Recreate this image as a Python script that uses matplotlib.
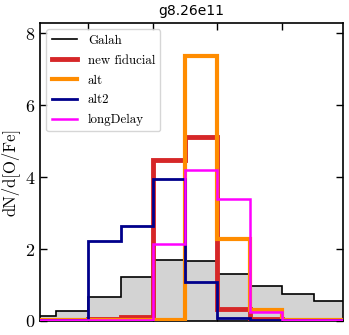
import numpy as np
import matplotlib
matplotlib.use("Agg")
import matplotlib.pyplot as plt

plt.rcParams['font.family'] = 'serif'
plt.rcParams['font.serif'] = ['cmr10']
plt.rcParams['mathtext.fontset'] = 'cm'
plt.rcParams['axes.formatter.use_mathtext'] = True
plt.rcParams['axes.unicode_minus'] = False

# bin edges in [O/Fe]
edges = [-0.4, -0.3, -0.2, -0.1, 0.0, 0.1, 0.2, 0.3, 0.4, 0.5, 0.6]

galah = [0.14, 0.28, 0.67, 1.22, 1.69, 1.67, 1.31, 0.97, 0.75, 0.56]
fiducial = [0.03, 0.03, 0.05, 0.1, 4.47, 5.11, 0.33, 0.05, 0.02, 0.02]
alt = [0.02, 0.02, 0.02, 0.02, 0.02, 7.36, 2.28, 0.3, 0.03, 0.02]
alt2 = [0.04, 0.04, 2.22, 2.65, 3.94, 1.07, 0.07, 0.02, 0.02, 0.02]
long_delay = [0.02, 0.02, 0.02, 0.02, 2.14, 4.19, 3.39, 0.25, 0.02, 0.02]

fig = plt.figure(figsize=(3.49, 3.35), dpi=100)
ax = fig.add_axes([0.1146, 0.0418, 0.8684, 0.8895])

ax.stairs(galah, edges, fill=True, color='lightgray', zorder=1)
ax.stairs(galah, edges, color='black', lw=1.2, label='Galah', zorder=2)
ax.stairs(fiducial, edges, color='#d62728', lw=3.5, label='new fiducial', zorder=3)
ax.stairs(alt, edges, color='darkorange', lw=3.0, label='alt', zorder=4)
ax.stairs(alt2, edges, color='darkblue', lw=2.0, label='alt2', zorder=5)
ax.stairs(long_delay, edges, color='magenta', lw=1.8, label='longDelay', zorder=6)

ax.set_xlim(-0.35, 0.59)
ax.set_ylim(0, 8.28)
ax.set_xticks([-0.2, 0.0, 0.2, 0.4])
ax.set_xticklabels([])
ax.set_yticks([0, 2, 4, 6, 8])
ax.tick_params(direction='in', top=True, right=True, length=5, width=1,
               labelsize=13)
for s in ax.spines.values():
    s.set_linewidth(1.2)

ax.set_ylabel('dN/d[O/Fe]', fontsize=12)
ax.set_title('g8.26e11', fontsize=10, family='DejaVu Sans')
ax.legend(loc='upper left', fontsize=9.3, labelspacing=0.6)

fig.savefig('out.png', dpi=100)
